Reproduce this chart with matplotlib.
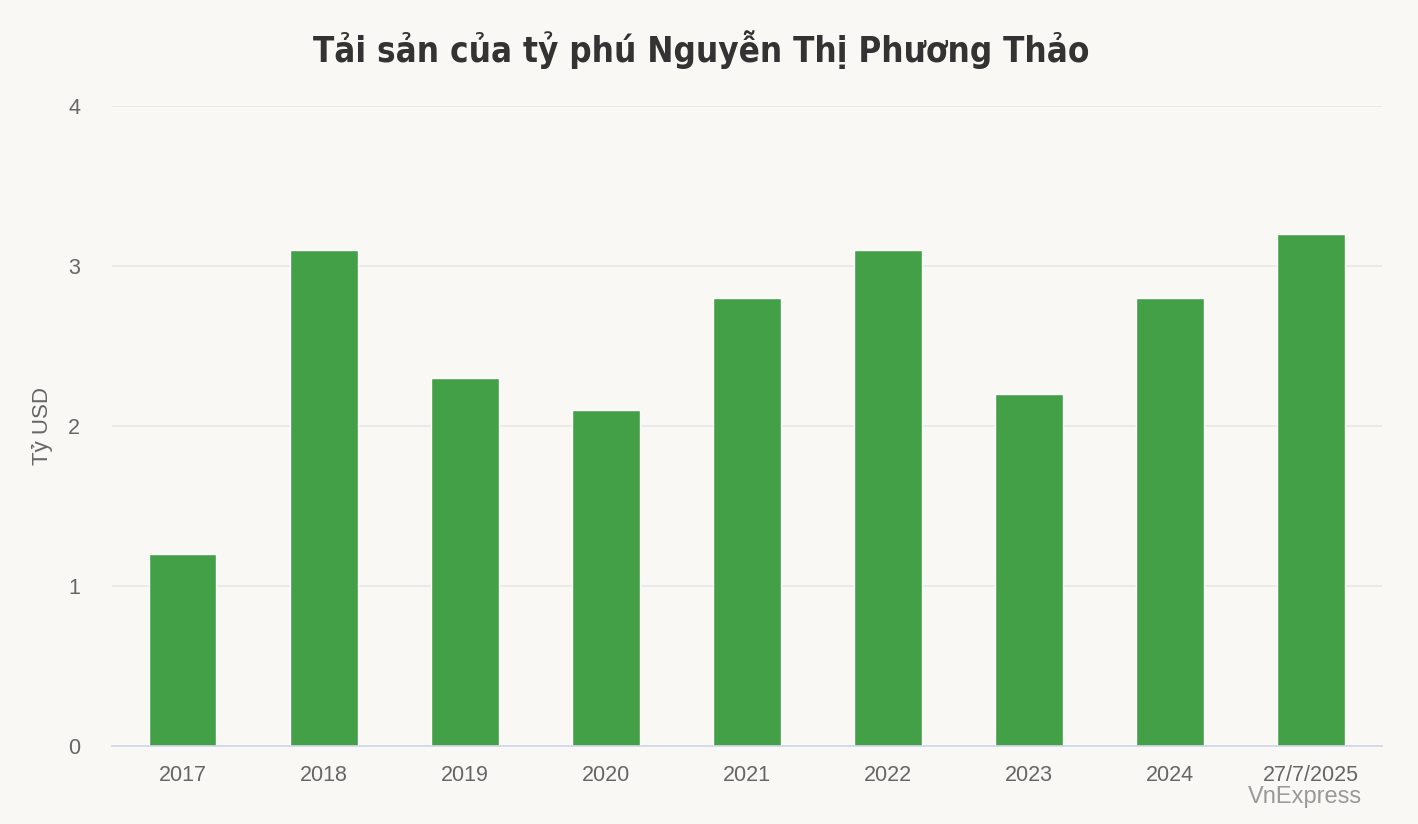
import matplotlib.pyplot as plt

#----------Data----------#

years = ['2017', '2018', '2019', '2020', '2021', '2022', '2023', '2024', '27/7/2025']
wealth = [1.2, 3.1, 2.3, 2.1, 2.8, 3.1, 2.2, 2.8, 3.2]

bg = '#f9f8f5'

fig = plt.figure(figsize=(14.18, 8.24), dpi=100, facecolor=bg)
ax = fig.add_axes([0.079, 0.0947, 0.8955, 0.7767], facecolor=bg)

x = range(len(years))
ax.bar(x, wealth, width=0.48, color='#43a047', edgecolor='white', linewidth=1, zorder=3)

ax.set_xlim(-0.5, len(years) - 0.5)
ax.set_ylim(0, 4)
ax.set_yticks([0, 1, 2, 3, 4])
ax.set_xticks(list(x))
ax.set_xticklabels(years)

ax.grid(axis='y', color='#e6e6e6', linewidth=1.2, zorder=0)
for side in ['top', 'right', 'left']:
    ax.spines[side].set_visible(False)
ax.spines['bottom'].set_color('#ccd6eb')
ax.spines['bottom'].set_linewidth(1.2)
ax.spines['bottom'].set_zorder(4)

ax.tick_params(axis='both', length=0, labelsize=15.5, labelcolor='#666666',
               labelfontfamily='Liberation Sans')
ax.tick_params(axis='x', pad=14)
ax.tick_params(axis='y', pad=23)

ax.set_ylabel('Tỷ USD', fontsize=16, color='#666666', family='Liberation Sans', labelpad=11)

#title font is a condensed bold face
fig.text(0.4945, 0.94, 'Tải sản của tỷ phú Nguyễn Thị Phương Thảo', ha='center', va='center',
         fontsize=25, fontweight='bold', color='#333333',
         family=['Liberation Sans Narrow', 'DejaVu Sans'], fontstretch='condensed')
fig.text(0.9605, 0.033, 'VnExpress', ha='right', va='center', fontsize=17,
         color='#999999', family='Liberation Sans')

plt.savefig('out.png', dpi=100, facecolor=bg)
